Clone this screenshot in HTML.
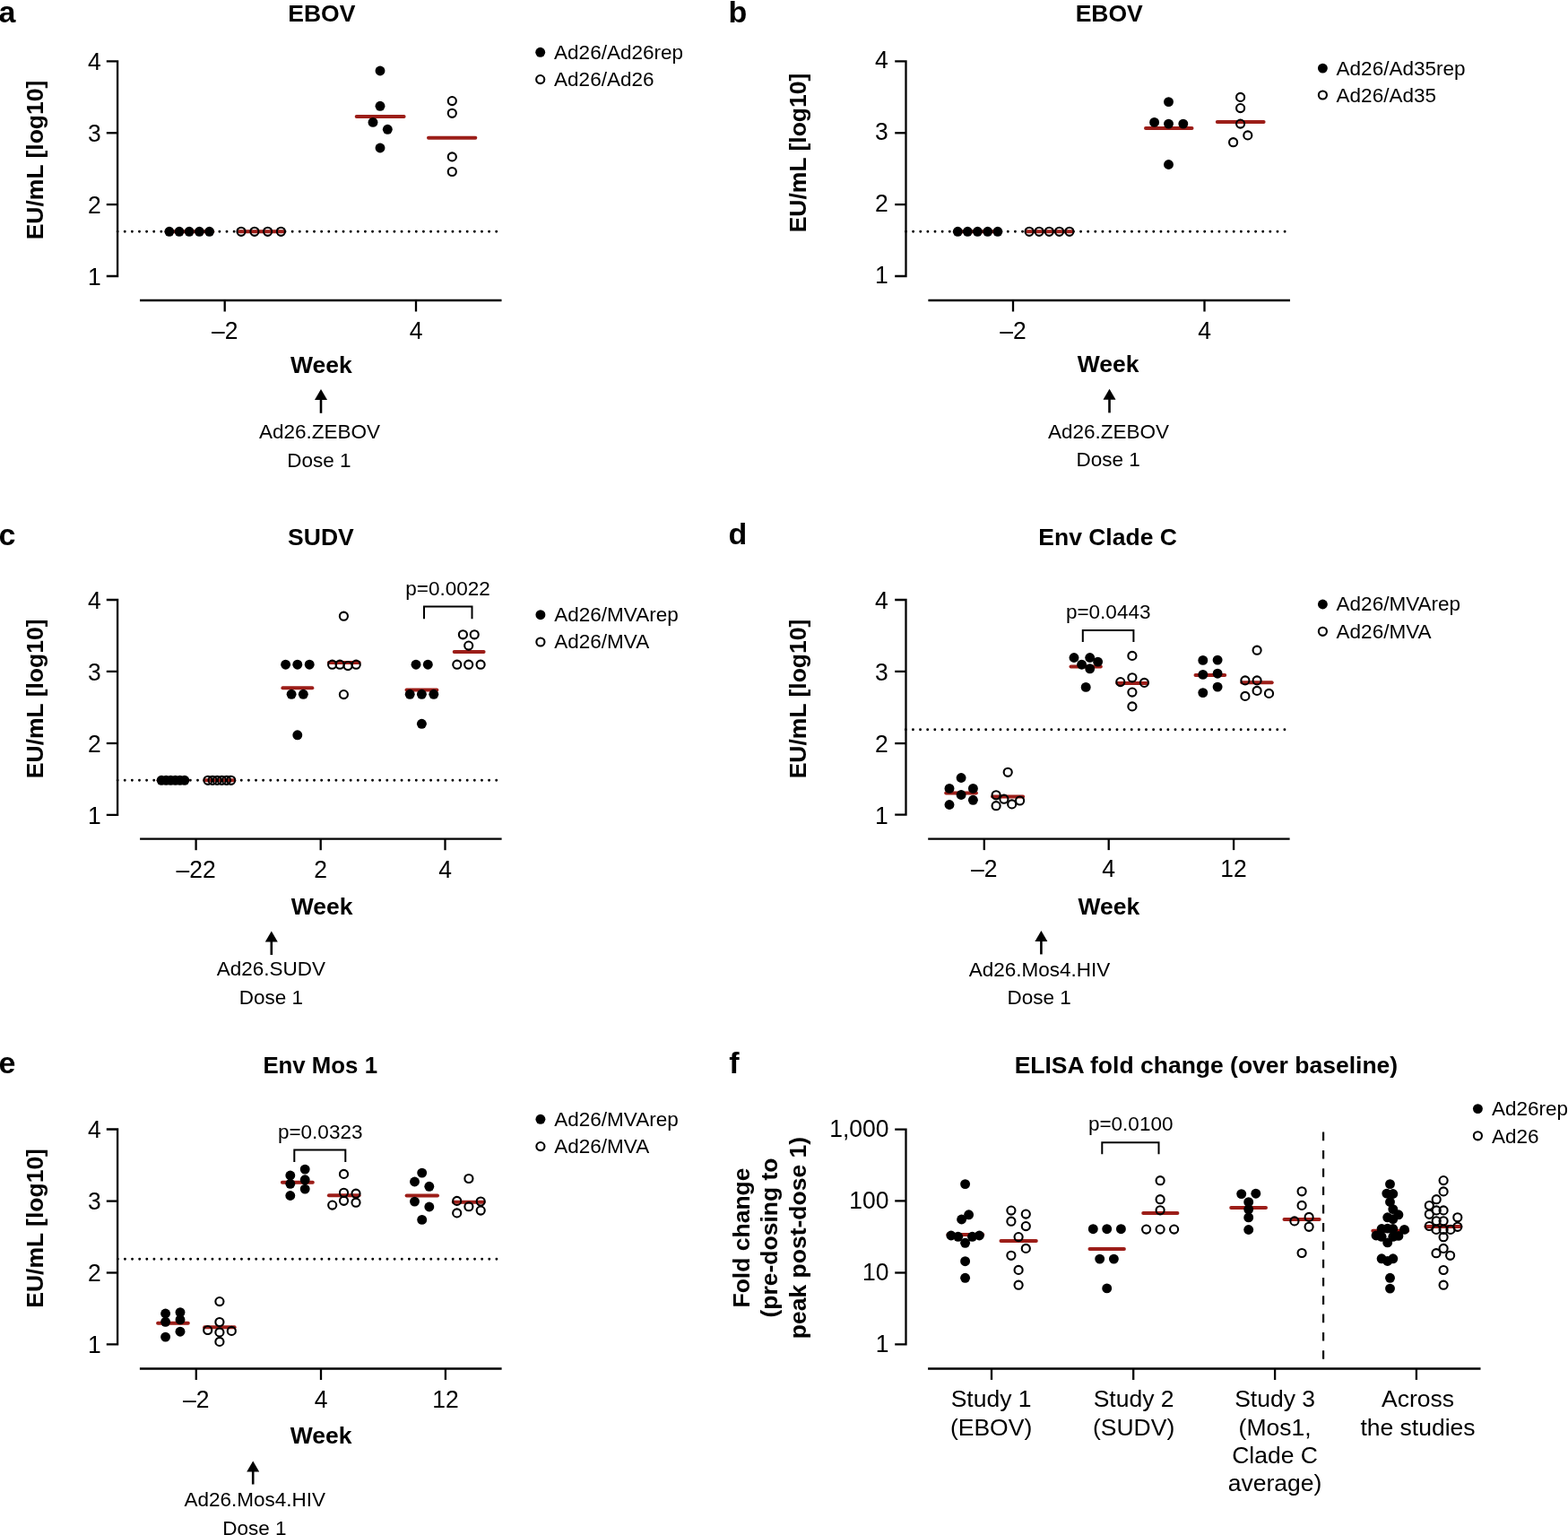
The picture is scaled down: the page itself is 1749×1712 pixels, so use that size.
<!DOCTYPE html>
<html><head><meta charset="utf-8"><title>Figure</title>
<style>
html,body{margin:0;padding:0;background:#fff;}
svg{display:block;}
text{font-family:"Liberation Sans",Arial,sans-serif;fill:#000;}
</style></head>
<body>
<svg width="1749" height="1712" viewBox="0 0 1749 1712">
<rect width="1749" height="1712" fill="#fff"/>
<text x="-1.5" y="24.6" font-size="34" font-weight="bold" text-anchor="start">a</text>
<text x="358.8" y="24.4" font-size="26.5" font-weight="bold" text-anchor="middle">EBOV</text>
<path d="M118.8,68.4 H131.1 V308.0 H118.8" fill="none" stroke="#000" stroke-width="2.3" stroke-linejoin="miter"/>
<line x1="118.8" y1="148.3" x2="131.1" y2="148.3" stroke="#000" stroke-width="2.3"/>
<line x1="118.8" y1="228.1" x2="131.1" y2="228.1" stroke="#000" stroke-width="2.3"/>
<text transform="translate(112.8,78.2) scale(1,1.045)" font-size="26.5" text-anchor="end">4</text>
<text transform="translate(112.8,158.1) scale(1,1.045)" font-size="26.5" text-anchor="end">3</text>
<text transform="translate(112.8,237.9) scale(1,1.045)" font-size="26.5" text-anchor="end">2</text>
<text transform="translate(112.8,317.8) scale(1,1.045)" font-size="26.5" text-anchor="end">1</text>
<line x1="156" y1="335" x2="559.5" y2="335" stroke="#000" stroke-width="2.3"/>
<line x1="250.7" y1="335" x2="250.7" y2="347.5" stroke="#000" stroke-width="2.3"/>
<line x1="464.0" y1="335" x2="464.0" y2="347.5" stroke="#000" stroke-width="2.3"/>
<text transform="translate(250.7,378.4) scale(1,1.045)" font-size="26.5" text-anchor="middle">–2</text>
<text transform="translate(464.0,378.4) scale(1,1.045)" font-size="26.5" text-anchor="middle">4</text>
<text transform="translate(48,178.5) rotate(-90)" font-size="26.5" font-weight="bold" text-anchor="middle">EU/mL [log10]</text>
<line x1="131.1" y1="258.3" x2="554" y2="258.3" stroke="#000" stroke-width="2.9" stroke-linecap="round" stroke-dasharray="0 8.127"/>
<line x1="185.6" y1="258.3" x2="237.3" y2="258.3" stroke="#9c1e19" stroke-width="4" stroke-linecap="round"/>
<line x1="266.3" y1="258.3" x2="316.6" y2="258.3" stroke="#9c1e19" stroke-width="4" stroke-linecap="round"/>
<circle cx="188.9" cy="258.3" r="5.45"/>
<circle cx="200" cy="258.3" r="5.45"/>
<circle cx="211.1" cy="258.3" r="5.45"/>
<circle cx="222.4" cy="258.3" r="5.45"/>
<circle cx="233.6" cy="258.3" r="5.45"/>
<circle cx="269" cy="258.3" r="4.55" fill="none" stroke="#000" stroke-width="2.1"/>
<circle cx="283.9" cy="258.3" r="4.55" fill="none" stroke="#000" stroke-width="2.1"/>
<circle cx="298.6" cy="258.3" r="4.55" fill="none" stroke="#000" stroke-width="2.1"/>
<circle cx="313.4" cy="258.3" r="4.55" fill="none" stroke="#000" stroke-width="2.1"/>
<line x1="397.7" y1="130.0" x2="450.6" y2="130.0" stroke="#9c1e19" stroke-width="4" stroke-linecap="round"/>
<line x1="478.0" y1="153.8" x2="530.3" y2="153.8" stroke="#9c1e19" stroke-width="4" stroke-linecap="round"/>
<circle cx="424" cy="79" r="5.45"/>
<circle cx="424" cy="118.3" r="5.45"/>
<circle cx="416" cy="136.4" r="5.45"/>
<circle cx="432.3" cy="144.3" r="5.45"/>
<circle cx="424" cy="165" r="5.45"/>
<circle cx="504.3" cy="112.6" r="4.55" fill="none" stroke="#000" stroke-width="2.1"/>
<circle cx="504.3" cy="126.3" r="4.55" fill="none" stroke="#000" stroke-width="2.1"/>
<circle cx="504.3" cy="174.9" r="4.55" fill="none" stroke="#000" stroke-width="2.1"/>
<circle cx="504.3" cy="191.5" r="4.55" fill="none" stroke="#000" stroke-width="2.1"/>
<circle cx="602.7" cy="58.3" r="5.45"/>
<circle cx="602.7" cy="88.6" r="4.55" fill="none" stroke="#000" stroke-width="2.1"/>
<text x="618.1" y="65.7" font-size="22.5" text-anchor="start">Ad26/Ad26rep</text>
<text x="618.1" y="95.8" font-size="22.5" text-anchor="start">Ad26/Ad26</text>
<text x="358.4" y="415.5" font-size="26.5" font-weight="bold" text-anchor="middle">Week</text>
<path d="M351,446 L358,434 L365,446 Z"/>
<line x1="358" y1="445" x2="358" y2="460.8" stroke="#000" stroke-width="2.6"/>
<text x="356.5" y="489.1" font-size="22.5" text-anchor="middle">Ad26.ZEBOV</text>
<text x="356.0" y="520.5" font-size="22.5" text-anchor="middle">Dose 1</text>
<text x="812.6" y="24.9" font-size="34" font-weight="bold" text-anchor="start">b</text>
<text x="1237.2" y="24.4" font-size="26.5" font-weight="bold" text-anchor="middle">EBOV</text>
<path d="M998.2,68.4 H1010.5 V308.0 H998.2" fill="none" stroke="#000" stroke-width="2.3" stroke-linejoin="miter"/>
<line x1="998.2" y1="148.3" x2="1010.5" y2="148.3" stroke="#000" stroke-width="2.3"/>
<line x1="998.2" y1="228.1" x2="1010.5" y2="228.1" stroke="#000" stroke-width="2.3"/>
<text transform="translate(990.7,76.1) scale(1,1.045)" font-size="26.5" text-anchor="end">4</text>
<text transform="translate(990.7,156.0) scale(1,1.045)" font-size="26.5" text-anchor="end">3</text>
<text transform="translate(990.7,235.8) scale(1,1.045)" font-size="26.5" text-anchor="end">2</text>
<text transform="translate(990.7,315.7) scale(1,1.045)" font-size="26.5" text-anchor="end">1</text>
<line x1="1035.4" y1="335" x2="1439" y2="335" stroke="#000" stroke-width="2.3"/>
<line x1="1130.0" y1="335" x2="1130.0" y2="347.5" stroke="#000" stroke-width="2.3"/>
<line x1="1343.5" y1="335" x2="1343.5" y2="347.5" stroke="#000" stroke-width="2.3"/>
<text transform="translate(1130.0,378.4) scale(1,1.045)" font-size="26.5" text-anchor="middle">–2</text>
<text transform="translate(1343.5,378.4) scale(1,1.045)" font-size="26.5" text-anchor="middle">4</text>
<text transform="translate(898.6,170.5) rotate(-90)" font-size="26.5" font-weight="bold" text-anchor="middle">EU/mL [log10]</text>
<line x1="1010.5" y1="258.3" x2="1434.7" y2="258.3" stroke="#000" stroke-width="2.9" stroke-linecap="round" stroke-dasharray="0 8.127"/>
<line x1="1065" y1="258.3" x2="1116" y2="258.3" stroke="#9c1e19" stroke-width="4" stroke-linecap="round"/>
<line x1="1144.9" y1="258.3" x2="1195.9" y2="258.3" stroke="#9c1e19" stroke-width="4" stroke-linecap="round"/>
<circle cx="1068.3" cy="258.3" r="5.45"/>
<circle cx="1079.3" cy="258.3" r="5.45"/>
<circle cx="1090.4" cy="258.3" r="5.45"/>
<circle cx="1101.7" cy="258.3" r="5.45"/>
<circle cx="1112.9" cy="258.3" r="5.45"/>
<circle cx="1148.1" cy="258.3" r="4.55" fill="none" stroke="#000" stroke-width="2.1"/>
<circle cx="1159.1" cy="258.3" r="4.55" fill="none" stroke="#000" stroke-width="2.1"/>
<circle cx="1170.3" cy="258.3" r="4.55" fill="none" stroke="#000" stroke-width="2.1"/>
<circle cx="1181.6" cy="258.3" r="4.55" fill="none" stroke="#000" stroke-width="2.1"/>
<circle cx="1192.9" cy="258.3" r="4.55" fill="none" stroke="#000" stroke-width="2.1"/>
<line x1="1278" y1="142.9" x2="1329.5" y2="142.9" stroke="#9c1e19" stroke-width="4" stroke-linecap="round"/>
<line x1="1357.8" y1="136.0" x2="1409.6" y2="136.0" stroke="#9c1e19" stroke-width="4" stroke-linecap="round"/>
<circle cx="1303.5" cy="113.6" r="5.45"/>
<circle cx="1287.6" cy="136.4" r="5.45"/>
<circle cx="1303.5" cy="138.1" r="5.45"/>
<circle cx="1319.8" cy="138.1" r="5.45"/>
<circle cx="1303.5" cy="183.5" r="5.45"/>
<circle cx="1383.6" cy="108.4" r="4.55" fill="none" stroke="#000" stroke-width="2.1"/>
<circle cx="1383.6" cy="120.6" r="4.55" fill="none" stroke="#000" stroke-width="2.1"/>
<circle cx="1383.6" cy="138.1" r="4.55" fill="none" stroke="#000" stroke-width="2.1"/>
<circle cx="1391.8" cy="150.9" r="4.55" fill="none" stroke="#000" stroke-width="2.1"/>
<circle cx="1375.6" cy="158.7" r="4.55" fill="none" stroke="#000" stroke-width="2.1"/>
<circle cx="1475.4" cy="76.1" r="5.45"/>
<circle cx="1475.4" cy="106.0" r="4.55" fill="none" stroke="#000" stroke-width="2.1"/>
<text x="1490.6" y="83.7" font-size="22.5" text-anchor="start">Ad26/Ad35rep</text>
<text x="1490.6" y="113.8" font-size="22.5" text-anchor="start">Ad26/Ad35</text>
<text x="1236.2" y="415.0" font-size="26.5" font-weight="bold" text-anchor="middle">Week</text>
<path d="M1230.5,445.8 L1237.5,433.8 L1244.5,445.8 Z"/>
<line x1="1237.5" y1="444.8" x2="1237.5" y2="460.4" stroke="#000" stroke-width="2.6"/>
<text x="1236.6" y="488.7" font-size="22.5" text-anchor="middle">Ad26.ZEBOV</text>
<text x="1236.1" y="520.4" font-size="22.5" text-anchor="middle">Dose 1</text>
<text x="-1.5" y="607.7" font-size="34" font-weight="bold" text-anchor="start">c</text>
<text x="357.9" y="607.6" font-size="26.5" font-weight="bold" text-anchor="middle">SUDV</text>
<path d="M118.8,669.0 H131.1 V908.8 H118.8" fill="none" stroke="#000" stroke-width="2.3" stroke-linejoin="miter"/>
<line x1="118.8" y1="748.9" x2="131.1" y2="748.9" stroke="#000" stroke-width="2.3"/>
<line x1="118.8" y1="829.0" x2="131.1" y2="829.0" stroke="#000" stroke-width="2.3"/>
<text transform="translate(112.8,678.8) scale(1,1.045)" font-size="26.5" text-anchor="end">4</text>
<text transform="translate(112.8,758.7) scale(1,1.045)" font-size="26.5" text-anchor="end">3</text>
<text transform="translate(112.8,838.8) scale(1,1.045)" font-size="26.5" text-anchor="end">2</text>
<text transform="translate(112.8,918.6) scale(1,1.045)" font-size="26.5" text-anchor="end">1</text>
<line x1="156.1" y1="935.7" x2="559.6" y2="935.7" stroke="#000" stroke-width="2.3"/>
<line x1="218.6" y1="935.7" x2="218.6" y2="948.2" stroke="#000" stroke-width="2.3"/>
<line x1="357.7" y1="935.7" x2="357.7" y2="948.2" stroke="#000" stroke-width="2.3"/>
<line x1="496.5" y1="935.7" x2="496.5" y2="948.2" stroke="#000" stroke-width="2.3"/>
<text transform="translate(218.6,978.6) scale(1,1.045)" font-size="26.5" text-anchor="middle">–22</text>
<text transform="translate(357.7,978.6) scale(1,1.045)" font-size="26.5" text-anchor="middle">2</text>
<text transform="translate(496.5,978.6) scale(1,1.045)" font-size="26.5" text-anchor="middle">4</text>
<text transform="translate(48,779.3) rotate(-90)" font-size="26.5" font-weight="bold" text-anchor="middle">EU/mL [log10]</text>
<line x1="131.1" y1="870.3" x2="554.1" y2="870.3" stroke="#000" stroke-width="2.9" stroke-linecap="round" stroke-dasharray="0 8.127"/>
<line x1="176.6" y1="870.3" x2="209.4" y2="870.3" stroke="#9c1e19" stroke-width="4" stroke-linecap="round"/>
<line x1="228.4" y1="870.3" x2="261.2" y2="870.3" stroke="#9c1e19" stroke-width="4" stroke-linecap="round"/>
<circle cx="180.1" cy="870.3" r="5.45"/>
<circle cx="185.26" cy="870.3" r="5.45"/>
<circle cx="190.42" cy="870.3" r="5.45"/>
<circle cx="195.57999999999998" cy="870.3" r="5.45"/>
<circle cx="200.74" cy="870.3" r="5.45"/>
<circle cx="205.9" cy="870.3" r="5.45"/>
<circle cx="231.9" cy="870.3" r="4.55" fill="none" stroke="#000" stroke-width="2.1"/>
<circle cx="237.06" cy="870.3" r="4.55" fill="none" stroke="#000" stroke-width="2.1"/>
<circle cx="242.22" cy="870.3" r="4.55" fill="none" stroke="#000" stroke-width="2.1"/>
<circle cx="247.38" cy="870.3" r="4.55" fill="none" stroke="#000" stroke-width="2.1"/>
<circle cx="252.54000000000002" cy="870.3" r="4.55" fill="none" stroke="#000" stroke-width="2.1"/>
<circle cx="257.7" cy="870.3" r="4.55" fill="none" stroke="#000" stroke-width="2.1"/>
<line x1="315.4" y1="767.3" x2="348.3" y2="767.3" stroke="#9c1e19" stroke-width="4" stroke-linecap="round"/>
<line x1="366.9" y1="739.1" x2="400.6" y2="739.1" stroke="#9c1e19" stroke-width="4" stroke-linecap="round"/>
<line x1="453.5" y1="769.5" x2="487.3" y2="769.5" stroke="#9c1e19" stroke-width="4" stroke-linecap="round"/>
<line x1="506.7" y1="727.1" x2="539.6" y2="727.1" stroke="#9c1e19" stroke-width="4" stroke-linecap="round"/>
<circle cx="318.6" cy="741.2" r="5.45"/>
<circle cx="331.8" cy="741.2" r="5.45"/>
<circle cx="345.2" cy="741.2" r="5.45"/>
<circle cx="325.1" cy="774.3" r="5.45"/>
<circle cx="338.3" cy="774.3" r="5.45"/>
<circle cx="331.8" cy="819.8" r="5.45"/>
<circle cx="370.6" cy="741.2" r="4.55" fill="none" stroke="#000" stroke-width="2.1"/>
<circle cx="379.1" cy="741.2" r="4.55" fill="none" stroke="#000" stroke-width="2.1"/>
<circle cx="388.1" cy="742.6" r="4.55" fill="none" stroke="#000" stroke-width="2.1"/>
<circle cx="397.2" cy="741.2" r="4.55" fill="none" stroke="#000" stroke-width="2.1"/>
<circle cx="383.4" cy="687.2" r="4.55" fill="none" stroke="#000" stroke-width="2.1"/>
<circle cx="383.4" cy="774.6" r="4.55" fill="none" stroke="#000" stroke-width="2.1"/>
<circle cx="464" cy="741.2" r="5.45"/>
<circle cx="477.3" cy="741.2" r="5.45"/>
<circle cx="457.2" cy="774.3" r="5.45"/>
<circle cx="470.4" cy="774.3" r="5.45"/>
<circle cx="483.8" cy="774.3" r="5.45"/>
<circle cx="470.4" cy="807.3" r="5.45"/>
<circle cx="516.4" cy="707.8" r="4.55" fill="none" stroke="#000" stroke-width="2.1"/>
<circle cx="529.2" cy="707.8" r="4.55" fill="none" stroke="#000" stroke-width="2.1"/>
<circle cx="522.7" cy="720.1" r="4.55" fill="none" stroke="#000" stroke-width="2.1"/>
<circle cx="509.8" cy="741.2" r="4.55" fill="none" stroke="#000" stroke-width="2.1"/>
<circle cx="522.7" cy="741.2" r="4.55" fill="none" stroke="#000" stroke-width="2.1"/>
<circle cx="536.1" cy="741.2" r="4.55" fill="none" stroke="#000" stroke-width="2.1"/>
<path d="M473,690.3 V676.5 H526.5 V690.3" fill="none" stroke="#000" stroke-width="2"/>
<text x="499.5" y="663.5" font-size="22.5" text-anchor="middle">p=0.0022</text>
<circle cx="602.9" cy="685.7" r="5.45"/>
<circle cx="602.9" cy="716.0" r="4.55" fill="none" stroke="#000" stroke-width="2.1"/>
<text x="618.3" y="693.2" font-size="22.5" text-anchor="start">Ad26/MVArep</text>
<text x="618.3" y="723.2" font-size="22.5" text-anchor="start">Ad26/MVA</text>
<text x="359.2" y="1020.0" font-size="26.5" font-weight="bold" text-anchor="middle">Week</text>
<path d="M295.8,1050.6 L302.8,1038.6 L309.8,1050.6 Z"/>
<line x1="302.8" y1="1049.6" x2="302.8" y2="1065" stroke="#000" stroke-width="2.6"/>
<text x="302.4" y="1087.9" font-size="22.5" text-anchor="middle">Ad26.SUDV</text>
<text x="302.4" y="1119.5" font-size="22.5" text-anchor="middle">Dose 1</text>
<text x="812.4" y="607.4" font-size="34" font-weight="bold" text-anchor="start">d</text>
<text x="1235.6" y="607.6" font-size="26.5" font-weight="bold" text-anchor="middle">Env Clade C</text>
<path d="M998.2,669.0 H1010.5 V908.7 H998.2" fill="none" stroke="#000" stroke-width="2.3" stroke-linejoin="miter"/>
<line x1="998.2" y1="748.9" x2="1010.5" y2="748.9" stroke="#000" stroke-width="2.3"/>
<line x1="998.2" y1="829.1" x2="1010.5" y2="829.1" stroke="#000" stroke-width="2.3"/>
<text transform="translate(990.8,678.8) scale(1,1.045)" font-size="26.5" text-anchor="end">4</text>
<text transform="translate(990.8,758.7) scale(1,1.045)" font-size="26.5" text-anchor="end">3</text>
<text transform="translate(990.8,838.9) scale(1,1.045)" font-size="26.5" text-anchor="end">2</text>
<text transform="translate(990.8,918.5) scale(1,1.045)" font-size="26.5" text-anchor="end">1</text>
<line x1="1035.2" y1="935.6" x2="1438.6" y2="935.6" stroke="#000" stroke-width="2.3"/>
<line x1="1097.8" y1="935.6" x2="1097.8" y2="948.1" stroke="#000" stroke-width="2.3"/>
<line x1="1236.7" y1="935.6" x2="1236.7" y2="948.1" stroke="#000" stroke-width="2.3"/>
<line x1="1376.1" y1="935.6" x2="1376.1" y2="948.1" stroke="#000" stroke-width="2.3"/>
<text transform="translate(1097.8,978.4) scale(1,1.045)" font-size="26.5" text-anchor="middle">–2</text>
<text transform="translate(1236.7,978.4) scale(1,1.045)" font-size="26.5" text-anchor="middle">4</text>
<text transform="translate(1376.1,978.4) scale(1,1.045)" font-size="26.5" text-anchor="middle">12</text>
<text transform="translate(898.5,779.5) rotate(-90)" font-size="26.5" font-weight="bold" text-anchor="middle">EU/mL [log10]</text>
<line x1="1010.3" y1="813.7" x2="1434" y2="813.7" stroke="#000" stroke-width="2.9" stroke-linecap="round" stroke-dasharray="0 8.127"/>
<line x1="1055.2" y1="884.5" x2="1088.9" y2="884.5" stroke="#9c1e19" stroke-width="4" stroke-linecap="round"/>
<line x1="1107.1" y1="888.5" x2="1141.1" y2="888.5" stroke="#9c1e19" stroke-width="4" stroke-linecap="round"/>
<circle cx="1072.1" cy="867.5" r="5.45"/>
<circle cx="1059" cy="879.4" r="5.45"/>
<circle cx="1085.4" cy="879.4" r="5.45"/>
<circle cx="1072.1" cy="886.5" r="5.45"/>
<circle cx="1085.4" cy="892.3" r="5.45"/>
<circle cx="1059" cy="897.5" r="5.45"/>
<circle cx="1124.2" cy="861.3" r="4.55" fill="none" stroke="#000" stroke-width="2.1"/>
<circle cx="1111.1" cy="886.8" r="4.55" fill="none" stroke="#000" stroke-width="2.1"/>
<circle cx="1119.9" cy="891.2" r="4.55" fill="none" stroke="#000" stroke-width="2.1"/>
<circle cx="1137.6" cy="893" r="4.55" fill="none" stroke="#000" stroke-width="2.1"/>
<circle cx="1128.7" cy="896.9" r="4.55" fill="none" stroke="#000" stroke-width="2.1"/>
<circle cx="1111.1" cy="898.7" r="4.55" fill="none" stroke="#000" stroke-width="2.1"/>
<line x1="1194.5" y1="743.4" x2="1227.8" y2="743.4" stroke="#9c1e19" stroke-width="4" stroke-linecap="round"/>
<line x1="1246.3" y1="762.1" x2="1279.2" y2="762.1" stroke="#9c1e19" stroke-width="4" stroke-linecap="round"/>
<line x1="1333.5" y1="752.9" x2="1366.2" y2="752.9" stroke="#9c1e19" stroke-width="4" stroke-linecap="round"/>
<line x1="1385.3" y1="761.3" x2="1418.7" y2="761.3" stroke="#9c1e19" stroke-width="4" stroke-linecap="round"/>
<circle cx="1198" cy="733.5" r="5.45"/>
<circle cx="1215.7" cy="733.5" r="5.45"/>
<circle cx="1224.6" cy="738.1" r="5.45"/>
<circle cx="1206.6" cy="741.2" r="5.45"/>
<circle cx="1215.7" cy="745.8" r="5.45"/>
<circle cx="1211.2" cy="766.4" r="5.45"/>
<circle cx="1262.9" cy="731.4" r="4.55" fill="none" stroke="#000" stroke-width="2.1"/>
<circle cx="1262.9" cy="755.8" r="4.55" fill="none" stroke="#000" stroke-width="2.1"/>
<circle cx="1249.8" cy="760.6" r="4.55" fill="none" stroke="#000" stroke-width="2.1"/>
<circle cx="1276.4" cy="761.4" r="4.55" fill="none" stroke="#000" stroke-width="2.1"/>
<circle cx="1262.9" cy="772.1" r="4.55" fill="none" stroke="#000" stroke-width="2.1"/>
<circle cx="1262.9" cy="787.9" r="4.55" fill="none" stroke="#000" stroke-width="2.1"/>
<circle cx="1341.8" cy="736.4" r="5.45"/>
<circle cx="1358.1" cy="736.1" r="5.45"/>
<circle cx="1341.8" cy="752.4" r="5.45"/>
<circle cx="1358.1" cy="751.2" r="5.45"/>
<circle cx="1358.1" cy="766.1" r="5.45"/>
<circle cx="1341.8" cy="772.6" r="5.45"/>
<circle cx="1402.1" cy="725.2" r="4.55" fill="none" stroke="#000" stroke-width="2.1"/>
<circle cx="1388.9" cy="758.9" r="4.55" fill="none" stroke="#000" stroke-width="2.1"/>
<circle cx="1402.1" cy="758.9" r="4.55" fill="none" stroke="#000" stroke-width="2.1"/>
<circle cx="1402.1" cy="770.4" r="4.55" fill="none" stroke="#000" stroke-width="2.1"/>
<circle cx="1415.5" cy="773.4" r="4.55" fill="none" stroke="#000" stroke-width="2.1"/>
<circle cx="1388.9" cy="776.4" r="4.55" fill="none" stroke="#000" stroke-width="2.1"/>
<path d="M1207.8,716 V703 H1264.4 V716" fill="none" stroke="#000" stroke-width="2"/>
<text x="1236.2" y="689.7" font-size="22.5" text-anchor="middle">p=0.0443</text>
<circle cx="1475.4" cy="674.0" r="5.45"/>
<circle cx="1475.4" cy="704.3" r="4.55" fill="none" stroke="#000" stroke-width="2.1"/>
<text x="1490.6" y="681.4" font-size="22.5" text-anchor="start">Ad26/MVArep</text>
<text x="1490.6" y="711.8" font-size="22.5" text-anchor="start">Ad26/MVA</text>
<text x="1236.8" y="1020.0" font-size="26.5" font-weight="bold" text-anchor="middle">Week</text>
<path d="M1154.4,1050 L1161.4,1038 L1168.4,1050 Z"/>
<line x1="1161.4" y1="1049" x2="1161.4" y2="1064.4" stroke="#000" stroke-width="2.6"/>
<text x="1159.5" y="1089.0" font-size="22.5" text-anchor="middle">Ad26.Mos4.HIV</text>
<text x="1159.2" y="1120.0" font-size="22.5" text-anchor="middle">Dose 1</text>
<text x="-1.5" y="1197.4" font-size="34" font-weight="bold" text-anchor="start">e</text>
<text x="357.2" y="1197.0" font-size="25.8" font-weight="bold" text-anchor="middle">Env Mos 1</text>
<path d="M118.8,1259.5 H131.1 V1499.4 H118.8" fill="none" stroke="#000" stroke-width="2.3" stroke-linejoin="miter"/>
<line x1="118.8" y1="1339.6" x2="131.1" y2="1339.6" stroke="#000" stroke-width="2.3"/>
<line x1="118.8" y1="1419.5" x2="131.1" y2="1419.5" stroke="#000" stroke-width="2.3"/>
<text transform="translate(112.8,1269.3) scale(1,1.045)" font-size="26.5" text-anchor="end">4</text>
<text transform="translate(112.8,1349.4) scale(1,1.045)" font-size="26.5" text-anchor="end">3</text>
<text transform="translate(112.8,1429.3) scale(1,1.045)" font-size="26.5" text-anchor="end">2</text>
<text transform="translate(112.8,1509.2) scale(1,1.045)" font-size="26.5" text-anchor="end">1</text>
<line x1="155.9" y1="1526.5" x2="559.6" y2="1526.5" stroke="#000" stroke-width="2.3"/>
<line x1="218.8" y1="1526.5" x2="218.8" y2="1539.0" stroke="#000" stroke-width="2.3"/>
<line x1="358.0" y1="1526.5" x2="358.0" y2="1539.0" stroke="#000" stroke-width="2.3"/>
<line x1="496.9" y1="1526.5" x2="496.9" y2="1539.0" stroke="#000" stroke-width="2.3"/>
<text transform="translate(218.8,1569.5) scale(1,1.045)" font-size="26.5" text-anchor="middle">–2</text>
<text transform="translate(358.0,1569.5) scale(1,1.045)" font-size="26.5" text-anchor="middle">4</text>
<text transform="translate(496.9,1569.5) scale(1,1.045)" font-size="26.5" text-anchor="middle">12</text>
<text transform="translate(48,1369.9) rotate(-90)" font-size="26.5" font-weight="bold" text-anchor="middle">EU/mL [log10]</text>
<line x1="131.3" y1="1404.2" x2="555.5" y2="1404.2" stroke="#000" stroke-width="2.9" stroke-linecap="round" stroke-dasharray="0 8.127"/>
<line x1="176.1" y1="1475.8" x2="209.8" y2="1475.8" stroke="#9c1e19" stroke-width="4" stroke-linecap="round"/>
<line x1="228.2" y1="1480.3" x2="261.6" y2="1480.3" stroke="#9c1e19" stroke-width="4" stroke-linecap="round"/>
<circle cx="184.6" cy="1465" r="5.45"/>
<circle cx="184.6" cy="1474.3" r="5.45"/>
<circle cx="184.6" cy="1491.1" r="5.45"/>
<circle cx="201" cy="1463.6" r="5.45"/>
<circle cx="201" cy="1471.9" r="5.45"/>
<circle cx="201" cy="1485.2" r="5.45"/>
<circle cx="244.9" cy="1451.6" r="4.55" fill="none" stroke="#000" stroke-width="2.1"/>
<circle cx="244.9" cy="1474.5" r="4.55" fill="none" stroke="#000" stroke-width="2.1"/>
<circle cx="231.7" cy="1483.5" r="4.55" fill="none" stroke="#000" stroke-width="2.1"/>
<circle cx="244.9" cy="1485.9" r="4.55" fill="none" stroke="#000" stroke-width="2.1"/>
<circle cx="258.3" cy="1484.4" r="4.55" fill="none" stroke="#000" stroke-width="2.1"/>
<circle cx="244.9" cy="1496.4" r="4.55" fill="none" stroke="#000" stroke-width="2.1"/>
<line x1="314.9" y1="1318.7" x2="348.8" y2="1318.7" stroke="#9c1e19" stroke-width="4" stroke-linecap="round"/>
<line x1="366.9" y1="1333.2" x2="400.5" y2="1333.2" stroke="#9c1e19" stroke-width="4" stroke-linecap="round"/>
<line x1="453.6" y1="1333.4" x2="488.0" y2="1333.4" stroke="#9c1e19" stroke-width="4" stroke-linecap="round"/>
<line x1="505.8" y1="1340.8" x2="539.6" y2="1340.8" stroke="#9c1e19" stroke-width="4" stroke-linecap="round"/>
<circle cx="323.8" cy="1311" r="5.45"/>
<circle cx="323.8" cy="1320.3" r="5.45"/>
<circle cx="323.8" cy="1333.5" r="5.45"/>
<circle cx="340.2" cy="1304.1" r="5.45"/>
<circle cx="340.2" cy="1315.8" r="5.45"/>
<circle cx="340.2" cy="1326.1" r="5.45"/>
<circle cx="383.5" cy="1309.4" r="4.55" fill="none" stroke="#000" stroke-width="2.1"/>
<circle cx="383.5" cy="1330.3" r="4.55" fill="none" stroke="#000" stroke-width="2.1"/>
<circle cx="397" cy="1331.2" r="4.55" fill="none" stroke="#000" stroke-width="2.1"/>
<circle cx="383.5" cy="1339.3" r="4.55" fill="none" stroke="#000" stroke-width="2.1"/>
<circle cx="397" cy="1341.2" r="4.55" fill="none" stroke="#000" stroke-width="2.1"/>
<circle cx="370.7" cy="1344.1" r="4.55" fill="none" stroke="#000" stroke-width="2.1"/>
<circle cx="470.7" cy="1308.1" r="5.45"/>
<circle cx="462.5" cy="1318" r="5.45"/>
<circle cx="478.8" cy="1323.3" r="5.45"/>
<circle cx="462.5" cy="1340.1" r="5.45"/>
<circle cx="478.8" cy="1346" r="5.45"/>
<circle cx="470.7" cy="1360.4" r="5.45"/>
<circle cx="522.9" cy="1314.5" r="4.55" fill="none" stroke="#000" stroke-width="2.1"/>
<circle cx="509.7" cy="1339.4" r="4.55" fill="none" stroke="#000" stroke-width="2.1"/>
<circle cx="536.2" cy="1340" r="4.55" fill="none" stroke="#000" stroke-width="2.1"/>
<circle cx="522.9" cy="1345.7" r="4.55" fill="none" stroke="#000" stroke-width="2.1"/>
<circle cx="536.2" cy="1350.1" r="4.55" fill="none" stroke="#000" stroke-width="2.1"/>
<circle cx="509.7" cy="1352.9" r="4.55" fill="none" stroke="#000" stroke-width="2.1"/>
<path d="M328.3,1295.9 V1282.4 H385.3 V1295.9" fill="none" stroke="#000" stroke-width="2"/>
<text x="357.2" y="1269.6" font-size="22.5" text-anchor="middle">p=0.0323</text>
<circle cx="602.9" cy="1248.3" r="5.45"/>
<circle cx="602.9" cy="1278.6" r="4.55" fill="none" stroke="#000" stroke-width="2.1"/>
<text x="618.3" y="1255.7" font-size="22.5" text-anchor="start">Ad26/MVArep</text>
<text x="618.3" y="1285.8" font-size="22.5" text-anchor="start">Ad26/MVA</text>
<text x="358.0" y="1610.2" font-size="26.5" font-weight="bold" text-anchor="middle">Week</text>
<path d="M275.2,1641.4 L282.2,1629.4 L289.2,1641.4 Z"/>
<line x1="282.2" y1="1640.4" x2="282.2" y2="1655.5" stroke="#000" stroke-width="2.6"/>
<text x="284.3" y="1680.1" font-size="22.5" text-anchor="middle">Ad26.Mos4.HIV</text>
<text x="283.8" y="1711.6" font-size="22.5" text-anchor="middle">Dose 1</text>
<text x="813.2" y="1196.6" font-size="34" font-weight="bold" text-anchor="start">f</text>
<text x="1345.4" y="1197.2" font-size="26.5" font-weight="bold" text-anchor="middle">ELISA fold change (over baseline)</text>
<path d="M998.2,1259.6 H1010.5 V1499.4 H998.2" fill="none" stroke="#000" stroke-width="2.3" stroke-linejoin="miter"/>
<line x1="998.2" y1="1339.4" x2="1010.5" y2="1339.4" stroke="#000" stroke-width="2.3"/>
<line x1="998.2" y1="1419.5" x2="1010.5" y2="1419.5" stroke="#000" stroke-width="2.3"/>
<text transform="translate(991.5,1268.0) scale(1,1.045)" font-size="26.5" text-anchor="end">1,000</text>
<text transform="translate(991.5,1347.8) scale(1,1.045)" font-size="26.5" text-anchor="end">100</text>
<text transform="translate(991.5,1427.9) scale(1,1.045)" font-size="26.5" text-anchor="end">10</text>
<text transform="translate(991.5,1507.8) scale(1,1.045)" font-size="26.5" text-anchor="end">1</text>
<line x1="1035.1" y1="1526.5" x2="1651.5" y2="1526.5" stroke="#000" stroke-width="2.3"/>
<line x1="1106.0" y1="1526.5" x2="1106.0" y2="1539.0" stroke="#000" stroke-width="2.3"/>
<line x1="1264.2" y1="1526.5" x2="1264.2" y2="1539.0" stroke="#000" stroke-width="2.3"/>
<line x1="1422.1" y1="1526.5" x2="1422.1" y2="1539.0" stroke="#000" stroke-width="2.3"/>
<line x1="1579.9" y1="1526.5" x2="1579.9" y2="1539.0" stroke="#000" stroke-width="2.3"/>
<text x="1105.6" y="1569.2" font-size="26.5" text-anchor="middle">Study 1</text>
<text x="1105.6" y="1600.5" font-size="26.5" text-anchor="middle">(EBOV)</text>
<text x="1264.6" y="1569.2" font-size="26.5" text-anchor="middle">Study 2</text>
<text x="1264.6" y="1600.5" font-size="26.5" text-anchor="middle">(SUDV)</text>
<text x="1422.1" y="1569.2" font-size="26.5" text-anchor="middle">Study 3</text>
<text x="1422.1" y="1600.5" font-size="26.5" text-anchor="middle">(Mos1,</text>
<text x="1422.1" y="1631.8" font-size="26.5" text-anchor="middle">Clade C</text>
<text x="1422.1" y="1663.1" font-size="26.5" text-anchor="middle">average)</text>
<text x="1581.5" y="1569.2" font-size="26.5" text-anchor="middle">Across</text>
<text x="1581.5" y="1600.5" font-size="26.5" text-anchor="middle">the studies</text>
<text transform="translate(835.5,1380.5) rotate(-90)" font-size="26.5" font-weight="bold" text-anchor="middle">Fold change</text>
<text transform="translate(866.8,1380.5) rotate(-90)" font-size="26.5" font-weight="bold" text-anchor="middle">(pre-dosing to</text>
<text transform="translate(898.8,1380.5) rotate(-90)" font-size="26.5" font-weight="bold" text-anchor="middle">peak post-dose 1)</text>
<line x1="1476.1" y1="1262.6" x2="1476.1" y2="1516" stroke="#000" stroke-width="2.2" stroke-dasharray="9.6 10.7"/>
<line x1="1057.3" y1="1376.9" x2="1096.3" y2="1376.9" stroke="#9c1e19" stroke-width="4" stroke-linecap="round"/>
<line x1="1116.5" y1="1383.9" x2="1155.8" y2="1383.9" stroke="#9c1e19" stroke-width="4" stroke-linecap="round"/>
<line x1="1215.5" y1="1392.9" x2="1253.9" y2="1392.9" stroke="#9c1e19" stroke-width="4" stroke-linecap="round"/>
<line x1="1275.2" y1="1353.0" x2="1313.4" y2="1353.0" stroke="#9c1e19" stroke-width="4" stroke-linecap="round"/>
<line x1="1373.2" y1="1347.0" x2="1412.0" y2="1347.0" stroke="#9c1e19" stroke-width="4" stroke-linecap="round"/>
<line x1="1432.5" y1="1360.0" x2="1471.7" y2="1360.0" stroke="#9c1e19" stroke-width="4" stroke-linecap="round"/>
<line x1="1531.3" y1="1372.7" x2="1570.2" y2="1372.7" stroke="#9c1e19" stroke-width="4" stroke-linecap="round"/>
<line x1="1590.4" y1="1367.9" x2="1629.4" y2="1367.9" stroke="#9c1e19" stroke-width="4" stroke-linecap="round"/>
<circle cx="1076.6" cy="1320.6" r="5.45"/>
<circle cx="1080.6" cy="1354.8" r="5.45"/>
<circle cx="1072.6" cy="1360" r="5.45"/>
<circle cx="1060.9" cy="1378" r="5.45"/>
<circle cx="1068.7" cy="1379.3" r="5.45"/>
<circle cx="1084.5" cy="1379.3" r="5.45"/>
<circle cx="1092.4" cy="1378" r="5.45"/>
<circle cx="1076.6" cy="1386.3" r="5.45"/>
<circle cx="1076.6" cy="1406.7" r="5.45"/>
<circle cx="1076.6" cy="1425.3" r="5.45"/>
<circle cx="1127.9" cy="1350.1" r="4.55" fill="none" stroke="#000" stroke-width="2.1"/>
<circle cx="1144.3" cy="1354.1" r="4.55" fill="none" stroke="#000" stroke-width="2.1"/>
<circle cx="1127.9" cy="1362.2" r="4.55" fill="none" stroke="#000" stroke-width="2.1"/>
<circle cx="1144.3" cy="1367.6" r="4.55" fill="none" stroke="#000" stroke-width="2.1"/>
<circle cx="1136.1" cy="1379.6" r="4.55" fill="none" stroke="#000" stroke-width="2.1"/>
<circle cx="1144.3" cy="1392.4" r="4.55" fill="none" stroke="#000" stroke-width="2.1"/>
<circle cx="1127.9" cy="1400.3" r="4.55" fill="none" stroke="#000" stroke-width="2.1"/>
<circle cx="1136.1" cy="1416.4" r="4.55" fill="none" stroke="#000" stroke-width="2.1"/>
<circle cx="1136.1" cy="1433.2" r="4.55" fill="none" stroke="#000" stroke-width="2.1"/>
<circle cx="1219.3" cy="1370.7" r="5.45"/>
<circle cx="1234.7" cy="1370.7" r="5.45"/>
<circle cx="1250.4" cy="1370.7" r="5.45"/>
<circle cx="1226.7" cy="1404.1" r="5.45"/>
<circle cx="1242.4" cy="1404.1" r="5.45"/>
<circle cx="1234.7" cy="1436.9" r="5.45"/>
<circle cx="1294.1" cy="1316.7" r="4.55" fill="none" stroke="#000" stroke-width="2.1"/>
<circle cx="1294.1" cy="1337.7" r="4.55" fill="none" stroke="#000" stroke-width="2.1"/>
<circle cx="1294.1" cy="1349.8" r="4.55" fill="none" stroke="#000" stroke-width="2.1"/>
<circle cx="1278.6" cy="1371.1" r="4.55" fill="none" stroke="#000" stroke-width="2.1"/>
<circle cx="1294.1" cy="1371.1" r="4.55" fill="none" stroke="#000" stroke-width="2.1"/>
<circle cx="1309.6" cy="1371.1" r="4.55" fill="none" stroke="#000" stroke-width="2.1"/>
<circle cx="1384.7" cy="1331.6" r="5.45"/>
<circle cx="1400.8" cy="1331.2" r="5.45"/>
<circle cx="1392.7" cy="1340.7" r="5.45"/>
<circle cx="1392.7" cy="1348.8" r="5.45"/>
<circle cx="1392.7" cy="1357.9" r="5.45"/>
<circle cx="1392.7" cy="1371.5" r="5.45"/>
<circle cx="1452.1" cy="1328.8" r="4.55" fill="none" stroke="#000" stroke-width="2.1"/>
<circle cx="1452.1" cy="1344.4" r="4.55" fill="none" stroke="#000" stroke-width="2.1"/>
<circle cx="1460.1" cy="1357.4" r="4.55" fill="none" stroke="#000" stroke-width="2.1"/>
<circle cx="1443.9" cy="1361.9" r="4.55" fill="none" stroke="#000" stroke-width="2.1"/>
<circle cx="1460.1" cy="1368.3" r="4.55" fill="none" stroke="#000" stroke-width="2.1"/>
<circle cx="1452.1" cy="1397.5" r="4.55" fill="none" stroke="#000" stroke-width="2.1"/>
<circle cx="1550.5" cy="1320.6" r="5.45"/>
<circle cx="1546.8" cy="1331.1" r="5.45"/>
<circle cx="1553.8" cy="1331.5" r="5.45"/>
<circle cx="1550.5" cy="1340.5" r="5.45"/>
<circle cx="1553.8" cy="1348.6" r="5.45"/>
<circle cx="1559.9" cy="1354.8" r="5.45"/>
<circle cx="1547.7" cy="1357.8" r="5.45"/>
<circle cx="1553.8" cy="1359.6" r="5.45"/>
<circle cx="1541.1" cy="1370.5" r="5.45"/>
<circle cx="1547.7" cy="1370.1" r="5.45"/>
<circle cx="1553.8" cy="1370.5" r="5.45"/>
<circle cx="1566.5" cy="1371.4" r="5.45"/>
<circle cx="1535" cy="1378" r="5.45"/>
<circle cx="1541.1" cy="1379.3" r="5.45"/>
<circle cx="1553.8" cy="1379.3" r="5.45"/>
<circle cx="1559.9" cy="1378.4" r="5.45"/>
<circle cx="1547.7" cy="1385.9" r="5.45"/>
<circle cx="1541.1" cy="1403.8" r="5.45"/>
<circle cx="1553.8" cy="1403.8" r="5.45"/>
<circle cx="1547.7" cy="1406.5" r="5.45"/>
<circle cx="1550.5" cy="1425.3" r="5.45"/>
<circle cx="1550.5" cy="1437.1" r="5.45"/>
<circle cx="1610.1" cy="1316.6" r="4.55" fill="none" stroke="#000" stroke-width="2.1"/>
<circle cx="1610.1" cy="1328.9" r="4.55" fill="none" stroke="#000" stroke-width="2.1"/>
<circle cx="1602.2" cy="1337.7" r="4.55" fill="none" stroke="#000" stroke-width="2.1"/>
<circle cx="1594.3" cy="1344.5" r="4.55" fill="none" stroke="#000" stroke-width="2.1"/>
<circle cx="1602.2" cy="1349.9" r="4.55" fill="none" stroke="#000" stroke-width="2.1"/>
<circle cx="1610.1" cy="1349.9" r="4.55" fill="none" stroke="#000" stroke-width="2.1"/>
<circle cx="1594.3" cy="1354.3" r="4.55" fill="none" stroke="#000" stroke-width="2.1"/>
<circle cx="1625.8" cy="1357.8" r="4.55" fill="none" stroke="#000" stroke-width="2.1"/>
<circle cx="1602.2" cy="1361.8" r="4.55" fill="none" stroke="#000" stroke-width="2.1"/>
<circle cx="1610.1" cy="1361.8" r="4.55" fill="none" stroke="#000" stroke-width="2.1"/>
<circle cx="1594.3" cy="1367.5" r="4.55" fill="none" stroke="#000" stroke-width="2.1"/>
<circle cx="1625.8" cy="1368.3" r="4.55" fill="none" stroke="#000" stroke-width="2.1"/>
<circle cx="1602" cy="1371.4" r="4.55" fill="none" stroke="#000" stroke-width="2.1"/>
<circle cx="1610.1" cy="1371.4" r="4.55" fill="none" stroke="#000" stroke-width="2.1"/>
<circle cx="1618" cy="1371.4" r="4.55" fill="none" stroke="#000" stroke-width="2.1"/>
<circle cx="1610.1" cy="1379.7" r="4.55" fill="none" stroke="#000" stroke-width="2.1"/>
<circle cx="1610.1" cy="1392.4" r="4.55" fill="none" stroke="#000" stroke-width="2.1"/>
<circle cx="1602" cy="1397.7" r="4.55" fill="none" stroke="#000" stroke-width="2.1"/>
<circle cx="1617.6" cy="1400.3" r="4.55" fill="none" stroke="#000" stroke-width="2.1"/>
<circle cx="1610.1" cy="1416.5" r="4.55" fill="none" stroke="#000" stroke-width="2.1"/>
<circle cx="1610.1" cy="1433.2" r="4.55" fill="none" stroke="#000" stroke-width="2.1"/>
<path d="M1229.3,1287.2 V1274.3 H1292.5 V1287.2" fill="none" stroke="#000" stroke-width="2"/>
<text x="1261.2" y="1260.8" font-size="22.5" text-anchor="middle">p=0.0100</text>
<circle cx="1648.4" cy="1236.6" r="5.45"/>
<circle cx="1648.4" cy="1266.8" r="4.55" fill="none" stroke="#000" stroke-width="2.1"/>
<text x="1664.0" y="1244.0" font-size="22.5" text-anchor="start">Ad26rep</text>
<text x="1664.0" y="1274.6" font-size="22.5" text-anchor="start">Ad26</text>
</svg>
</body></html>
